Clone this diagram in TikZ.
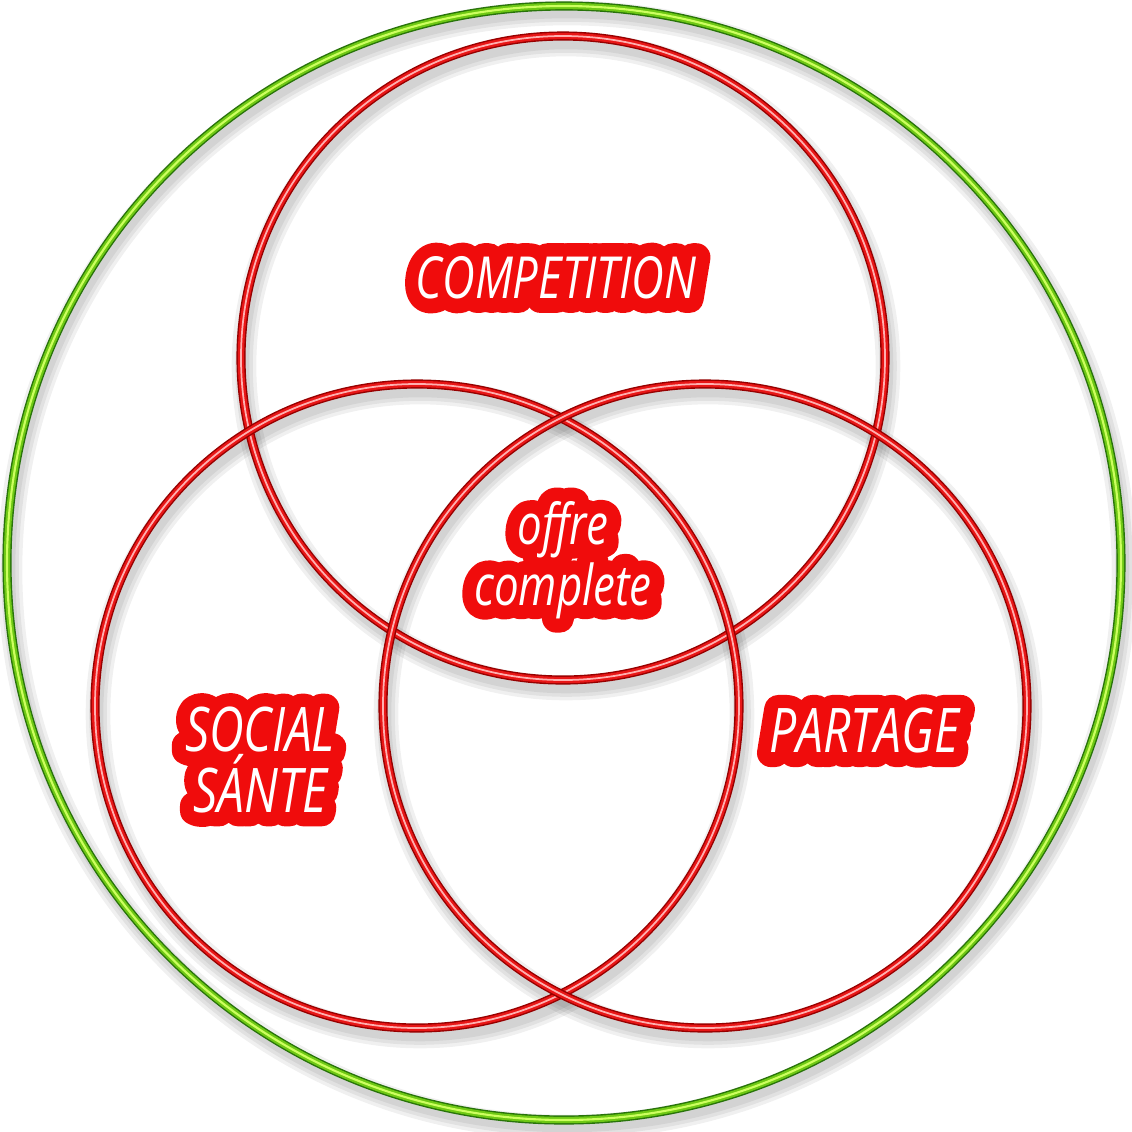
\documentclass[tikz,border=0pt]{standalone}
\usepackage{fontspec}
\setmainfont{Open Sans}
\newfontfamily\vennfont[FakeStretch=0.78]{Open Sans}
\usepackage{tikz}

\definecolor{ringred}{RGB}{232,22,22}
\definecolor{ringdark}{RGB}{150,0,0}
\definecolor{ringlight}{RGB}{255,175,175}
\definecolor{ringgreen}{RGB}{110,200,20}
\definecolor{greendark}{RGB}{40,115,10}
\definecolor{greenlight}{RGB}{205,255,95}
\definecolor{vennred}{RGB}{240,12,12}

\tikzset{
  ringshadow/.style={draw=black, opacity=0.06, line width=#1},
  redring/.style={draw=ringdark, line width=2.6pt,
    postaction={draw=ringred, line width=1.8pt},
    postaction={draw=ringlight, line width=0.5pt}},
  greenring/.style={draw=greendark, line width=2.6pt,
    postaction={draw=ringgreen, line width=1.8pt},
    postaction={draw=greenlight, line width=0.6pt}},
  vennlabel/.style={align=center,
    font=\vennfont\itshape\fontsize{#1}{17.2}\selectfont},
  % thick red stroke of the letters, drawn first
  vennrim/.style={vennlabel=#1, text=vennred,
    execute at begin node={\special{pdf:literal direct 1 Tr 8 w 1 j 1 J}},
    execute at end node={\special{pdf:literal direct 0 Tr}}},
  vennfill/.style={vennlabel=#1, text=white}
}

\begin{document}
\begin{tikzpicture}[x=0.01cm, y=-0.01cm]
\fill [white] (0,0) rectangle (1132,1132);
\useasboundingbox (0,0) rectangle (1132,1132);

% soft shadows under the rings
\foreach \w in {7pt, 5pt, 3pt} {
  \draw [ringshadow=\w] (567,570) circle (557);
  \draw [ringshadow=\w] (566,366) circle (322);
  \draw [ringshadow=\w] (420,714) circle (322);
  \draw [ringshadow=\w] (708,714) circle (322);
}

% rings
\draw [greenring] (564,563) circle (557);
\draw [redring] (563,358) circle (322);
\draw [redring] (417,706) circle (322);
\draw [redring] (705,706) circle (322);

% labels: red rim first, white letters on top
\node [vennrim=16.5] (competition-rim) at (556,278) {COMPETITION};
\node [vennrim=16] (offre-rim) at (563,560) {offre\\complete};
\node [vennrim=17.5] (social-rim) at (260,760) {SOCIAL\\SÁNTE};
\node [vennrim=17.5] (partage-rim) at (864,731) {PARTAGE};

\node [vennfill=16.5] (competition) at (competition-rim) {COMPETITION};
\node [vennfill=16] (offre) at (offre-rim) {offre\\complete};
\node [vennfill=17.5] (social) at (social-rim) {SOCIAL\\SÁNTE};
\node [vennfill=17.5] (partage) at (partage-rim) {PARTAGE};
\end{tikzpicture}
\end{document}
